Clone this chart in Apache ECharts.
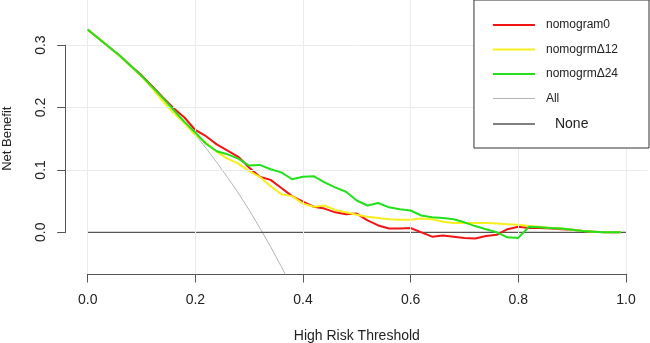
<!DOCTYPE html>
<html>
<head>
<meta charset="utf-8">
<script src="https://cdn.jsdelivr.net/npm/echarts@6/dist/echarts.min.js"></script>
<style>
    html, body { margin: 0; padding: 0; background: #fff; }
    #chart { width: 650px; height: 343px; }
</style>
</head>
<body>
<div id="chart"></div>
<script>
// threshold probabilities (x) shared by the three models
const thresholds = [0, 0.02, 0.04, 0.06, 0.08, 0.10, 0.12, 0.14, 0.16, 0.18,
    0.20, 0.22, 0.24, 0.26, 0.28, 0.30, 0.32, 0.34, 0.36, 0.38,
    0.40, 0.42, 0.44, 0.46, 0.48, 0.50, 0.52, 0.54, 0.56, 0.58,
    0.60, 0.62, 0.64, 0.66, 0.68, 0.70, 0.72, 0.74, 0.76, 0.78,
    0.80, 0.82, 0.84, 0.86, 0.88, 0.90, 0.92, 0.94, 0.96, 0.98, 0.99];

const nomogram0 = [0.325, 0.311, 0.297, 0.283, 0.267, 0.252, 0.234, 0.216, 0.199, 0.184,
    0.164, 0.154, 0.141, 0.131, 0.121, 0.104, 0.089, 0.084, 0.071, 0.058,
    0.049, 0.041, 0.038, 0.032, 0.029, 0.030, 0.019, 0.011, 0.006, 0.006,
    0.007, 0.000, -0.007, -0.005, -0.007, -0.009, -0.010, -0.006, -0.004, 0.005,
    0.009, 0.007, 0.007, 0.006, 0.005, 0.004, 0.002, 0.001, 0.000, 0.000, 0.000];

const nomogram12 = [0.325, 0.311, 0.297, 0.282, 0.266, 0.250, 0.231, 0.210, 0.191, 0.175,
    0.156, 0.144, 0.129, 0.118, 0.110, 0.098, 0.089, 0.074, 0.061, 0.058,
    0.046, 0.041, 0.043, 0.036, 0.032, 0.028, 0.025, 0.023, 0.021, 0.020,
    0.020, 0.022, 0.021, 0.017, 0.015, 0.015, 0.015, 0.015, 0.014, 0.013,
    0.012, 0.010, 0.009, 0.007, 0.006, 0.004, 0.002, 0.001, 0.000, 0.000, 0.000];

const nomogram24 = [0.325, 0.311, 0.297, 0.283, 0.267, 0.251, 0.233, 0.215, 0.196, 0.177,
    0.160, 0.142, 0.130, 0.125, 0.118, 0.107, 0.108, 0.101, 0.096, 0.085,
    0.089, 0.090, 0.080, 0.072, 0.065, 0.051, 0.043, 0.047, 0.040, 0.037,
    0.035, 0.027, 0.024, 0.023, 0.021, 0.016, 0.010, 0.005, 0.000, -0.008,
    -0.009, 0.009, 0.008, 0.007, 0.006, 0.004, 0.002, 0.001, 0.000, 0.000, 0.000];

// treat-all curve
const allThresholds = [0, 0.02, 0.04, 0.06, 0.08, 0.10, 0.12, 0.14, 0.16, 0.18,
    0.20, 0.22, 0.24, 0.26, 0.28, 0.30, 0.32, 0.34, 0.36, 0.38];
const allBenefit = [0.325, 0.311, 0.297, 0.282, 0.266, 0.250, 0.233, 0.215, 0.196, 0.177,
    0.156, 0.135, 0.112, 0.088, 0.063, 0.036, 0.007, -0.023, -0.055, -0.089];

// treat-none curve
const noneThresholds = [0, 1];
const noneBenefit = [0, 0];

const xTicks = [0, 0.2, 0.4, 0.6, 0.8, 1.0];
const yTicks = [0, 0.1, 0.2, 0.3];

const seriesNames = ['nomogram0', 'nomogrmΔ12', 'nomogrmΔ24', 'All', 'None'];

const font = 'Liberation Sans, Arial, Helvetica, sans-serif';

function pairs(xs, ys) {
    return xs.map((x, i) => [x, ys[i]]);
}

function curve(name, xs, ys, color, width, z) {
    return {
        name: name,
        type: 'line',
        xAxisIndex: 0,
        yAxisIndex: 0,
        data: pairs(xs, ys),
        symbol: 'none',
        showSymbol: false,
        clip: true,
        z: z,
        lineStyle: { color: color, width: width },
        itemStyle: { color: color },
        emphasis: { disabled: true },
    };
}

// legend icons: flat bars, thinner for the reference lines
function legendIcon(name) {
    const h = (name === 'All') ? 1 : (name === 'None' ? 1.4 : 2);
    return 'path://M0,0H42V' + h + 'H0Z';
}

const myChart = echarts.init(document.getElementById('chart'), null, { renderer: 'canvas' });

const noneSeries = curve('None', noneThresholds, noneBenefit, '#555', 1.3, 2);
// light grid lines over the whole plot region
noneSeries.markLine = {
    silent: true,
    symbol: 'none',
    animation: false,
    label: { show: false },
    lineStyle: { color: '#ebebeb', width: 1, type: 'solid' },
    data: xTicks.map(v => ({ xAxis: v })).concat(yTicks.filter(v => v !== 0).map(v => ({ yAxis: v }))),
};

const option = {
    animation: false,
    backgroundColor: '#fff',
    textStyle: { fontFamily: font },
    grid: [
        // plot region (R's usr with 4% expansion)
        { left: 66, right: 2.5, top: 0, bottom: 69, outerBoundsMode: 'none', containLabel: false },
        // axis frame for the tick ranges
        { left: 87.7, right: 24, top: 45.1, bottom: 110.7, outerBoundsMode: 'none', containLabel: false },
    ],
    xAxis: [
        { gridIndex: 0, type: 'value', min: -0.04, max: 1.04, show: false },
        {
            gridIndex: 1, type: 'value', min: 0, max: 1, interval: 0.2,
            position: 'bottom', offset: 41.7,
            name: 'High Risk Threshold', nameLocation: 'middle', nameGap: 55,
            nameTextStyle: { fontSize: 14, color: '#222', fontFamily: font },
            axisLine: { show: true, onZero: false, lineStyle: { color: '#555', width: 1 } },
            axisTick: { show: true, length: 8.5, lineStyle: { color: '#555' } },
            axisLabel: { fontSize: 14, color: '#222', margin: 19, fontFamily: font, formatter: v => v.toFixed(1) },
            splitLine: { show: false },
        },
    ],
    yAxis: [
        { gridIndex: 0, type: 'value', min: -0.0668, max: 0.3723, show: false },
        {
            gridIndex: 1, type: 'value', min: 0, max: 0.3, interval: 0.1,
            position: 'left', offset: 22,
            name: 'Net Benefit', nameLocation: 'middle', nameGap: 52, nameRotate: 90,
            nameTextStyle: { fontSize: 13, color: '#222', fontFamily: font },
            axisLine: { show: true, onZero: false, lineStyle: { color: '#555', width: 1 } },
            axisTick: { show: true, length: 8.5, lineStyle: { color: '#555' } },
            axisLabel: { fontSize: 14, color: '#222', margin: 18, rotate: 90, fontFamily: font, formatter: v => v.toFixed(1) },
            splitLine: { show: false },
        },
    ],
    legend: {
        data: seriesNames.map(n => ({ name: n, icon: legendIcon(n) })),
        orient: 'vertical',
        right: 1,
        top: 0,
        z: 10,
        itemWidth: 42,
        itemHeight: 14,
        itemGap: 12.5,
        symbolKeepAspect: true,
        padding: [19, 31, 17, 19],
        backgroundColor: '#fff',
        borderColor: '#333',
        borderWidth: 1,
        borderRadius: 0,
        selectedMode: false,
        textStyle: {
            fontSize: 12,
            color: '#222',
            fontFamily: font,
            padding: [0, 0, 0, 6],
            rich: {
                big: { fontSize: 14, color: '#222', fontFamily: font, padding: [0, 0, 0, 9] },
            },
        },
        formatter: name => (name === 'None' ? '{big|None}' : name),
    },
    series: [
        curve('nomogram0', thresholds, nomogram0, '#f01414', 2, 3),
        curve('nomogrmΔ12', thresholds, nomogram12, '#f7ee1c', 2, 4),
        curve('nomogrmΔ24', thresholds, nomogram24, '#22e01c', 2, 5),
        curve('All', allThresholds, allBenefit, '#b4b4b4', 1, 2),
        noneSeries,
    ],
};

myChart.setOption(option);
</script>
</body>
</html>
